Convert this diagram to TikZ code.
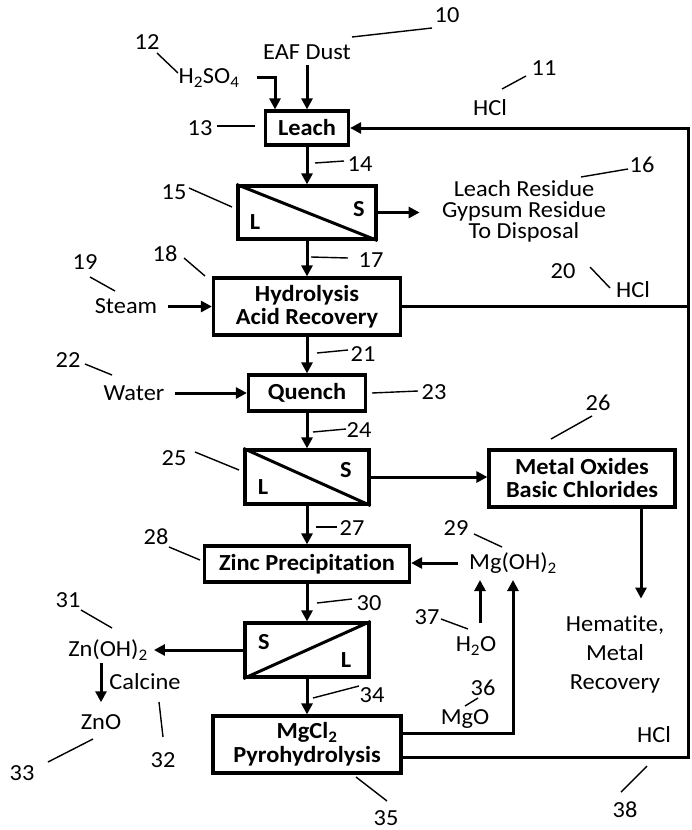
\documentclass[tikz,border=0pt]{standalone}
\usepackage{fontspec}
\setmainfont{Carlito}[FakeStretch=1.06, Ligatures={NoCommon}]
\usetikzlibrary{arrows.meta}
\begin{document}
\begin{tikzpicture}[x=1pt,y=-1pt,
  every node/.style={font=\fontsize{23}{21}\selectfont, inner sep=0pt},
  box/.style={draw, line width=3.2pt, font=\fontsize{23}{23}\selectfont\bfseries, align=center},
  sl/.style={font=\fontsize{23}{21}\selectfont\bfseries},
  flow/.style={line width=3pt, -{Triangle[length=11pt,width=11pt]}},
  pipe/.style={line width=3pt},
  lead/.style={line width=1.4pt}]
\useasboundingbox (0,0) rectangle (691,830);

% ---- process boxes
\node[box, minimum width=83pt, minimum height=34pt] (leach) at (307,128) {Leach};
\node[box, minimum width=138pt, minimum height=53pt] (sep1) at (307,212.5) {};
\draw[pipe] (sep1.north west) -- (sep1.south east);
\node[sl] (sep1L) at (255,222) {L};
\node[sl] (sep1S) at (359,209) {S};
\node[box, minimum width=187pt, minimum height=57pt] (hydro) at (307,306.5) {Hydrolysis\\Acid Recovery};
\node[box, minimum width=117pt, minimum height=36pt] (quench) at (307,393) {Quench};
\node[box, minimum width=124pt, minimum height=54pt] (sep2) at (307,477) {};
\draw[pipe] (sep2.north west) -- (sep2.south east);
\node[sl] (sep2L) at (263,487) {L};
\node[sl] (sep2S) at (346,470) {S};
\node[box, minimum width=186pt, minimum height=57pt] (metal) at (582,478.5) {Metal Oxides\\Basic Chlorides};
\node[box, minimum width=205pt, minimum height=36pt] (zinc) at (307,564) {Zinc Precipitation};
\node[box, minimum width=124pt, minimum height=54pt] (sep3) at (307,650) {};
\draw[pipe] (sep3.south west) -- (sep3.north east);
\node[sl] (sep3S) at (264,642) {S};
\node[sl] (sep3L) at (346,660) {L};
\node[box, minimum width=188pt, minimum height=57pt, font=\fontsize{23}{24}\selectfont\bfseries] (mgcl) at (307,744.5) {MgCl\textsubscript{2}\\Pyrohydrolysis};

% ---- texts
\node (eaf) at (307,52) {EAF Dust};
\node (h2so4) at (209,78) {H\textsubscript{2}SO\textsubscript{4}};
\node (hcl1) at (490,108) {HCl};
\node[align=center] (resid) at (524,211) {Leach Residue\\Gypsum Residue\\To Disposal};
\node (steam) at (126,306) {Steam};
\node (hcl2) at (633,290) {HCl};
\node (water) at (134,393) {Water};
\node (mgoh) at (513,563) {Mg(OH)\textsubscript{2}};
\node (h2o) at (476,646) {H\textsubscript{2}O};
\node (znoh) at (108,650) {Zn(OH)\textsubscript{2}};
\node (calc) at (145,682) {Calcine};
\node (zno) at (101,722) {ZnO};
\node (mgo) at (465,719) {MgO};
\node[align=center, font=\fontsize{23}{29}\selectfont] (hem) at (615,654) {Hematite,\\Metal\\Recovery};
\node (hcl3) at (654,735) {HCl};

% ---- reference numbers
\node (n10) at (447,15) {10};
\node (n11) at (544,68) {11};
\node (n12) at (147,42) {12};
\node (n13) at (200,128) {13};
\node (n14) at (360,164) {14};
\node (n15) at (174,192) {15};
\node (n16) at (642,165) {16};
\node (n17) at (371,260) {17};
\node (n18) at (165,254) {18};
\node (n19) at (85,262) {19};
\node (n20) at (563,271) {20};
\node (n21) at (363,354) {21};
\node (n22) at (68,360) {22};
\node (n23) at (434,392) {23};
\node (n24) at (359,430) {24};
\node (n25) at (174,458) {25};
\node (n26) at (598,403) {26};
\node (n27) at (352,528) {27};
\node (n28) at (156,537) {28};
\node (n29) at (456,528) {29};
\node (n30) at (369,603) {30};
\node (n31) at (68,600) {31};
\node (n32) at (163,760) {32};
\node (n33) at (22,773) {33};
\node (n34) at (372,695) {34};
\node (n35) at (386,818) {35};
\node (n36) at (483,688) {36};
\node (n37) at (427,617) {37};
\node (n38) at (625,810) {38};

% ---- leader lines
\draw[lead] (352,37) -- (432,28);
\draw[lead] (157,53) -- (178,73);
\draw[lead] (526,76) -- (502,89);
\draw[lead] (217,126) -- (255,126);
\draw[lead] (315,163) -- (344,161);
\draw[lead] (189,188) -- (232,207);
\draw[lead] (581,177) -- (628,169);
\draw[lead] (311,257) -- (348,258);
\draw[lead] (184,258) -- (205,276);
\draw[lead] (90,277) -- (115,291);
\draw[lead] (590,267) -- (610,288);
\draw[lead] (317,353) -- (348,350);
\draw[lead] (85,364) -- (112,375);
\draw[lead] (372,393) -- (418,391);
\draw[lead] (313,432) -- (346,429);
\draw[lead] (195,452) -- (239,470);
\draw[lead] (592,416) -- (551,439);
\draw[lead] (316,527) -- (337,527);
\draw[lead] (169,547) -- (200,560);
\draw[lead] (474,534) -- (502,547);
\draw[lead] (317,603) -- (352,599);
\draw[lead] (81,610) -- (112,628);
\draw[lead] (441,619) -- (468,629);
\draw[lead] (313,698) -- (359,686);
\draw[lead] (478,698) -- (465,706);
\draw[lead] (159,702) -- (163,737);
\draw[lead] (48,762) -- (93,739);
\draw[lead] (356,777) -- (387,801);
\draw[lead] (621,792) -- (647,766);

% ---- flows
\coordinate (hbend) at (275,77);
\draw[flow] ([xshift=17pt]h2so4.east |- hbend) -- (hbend) -- (hbend |- leach.north);
\draw[flow] ([yshift=-5pt]eaf.south) -- (eaf.south |- leach.north);
\draw[flow] (leach) -- (sep1);
\draw[flow] (sep1.east) -- ++(42,0);
\draw[flow] (sep1) -- (hydro);
\draw[flow] ([xshift=-44pt]hydro.west) -- (hydro.west);
\draw[flow] (hydro) -- (quench);
\draw[flow] ([xshift=-72pt]quench.west) -- (quench.west);
\draw[flow] (quench) -- (sep2);
\draw[flow] (sep2.east) -- (sep2.east -| metal.west);
\draw[flow] ([xshift=59pt]metal.south) -- ++(0,90);
\draw[flow] (sep2) -- (zinc);
\draw[flow] ([xshift=-11pt]mgoh.west) -- (zinc.east |- mgoh.west);
\draw[flow] (zinc) -- (sep3);
\draw[flow] (sep3.west) -- ([xshift=6pt]znoh.east |- sep3.west);
\draw[flow] ([yshift=-3pt]znoh.south -| zno.north) -- ([yshift=12pt]zno.north);
\draw[flow] (sep3) -- (mgcl);
\coordinate (h2ob) at (480,623);
\coordinate (h2ot) at (480,580);
\draw[flow] (h2ob) -- (h2ot);
\coordinate (mgoc) at (513,733);
\coordinate (mgot) at (513,580);
\draw[flow] (mgcl.east |- mgoc) -- (mgoc) -- (mgot);
\coordinate (rtop) at (688,128);
\coordinate (rbot) at (688,757);
\draw[flow] (mgcl.east |- rbot) -- (rbot) -- (rtop) -- (leach.east);
\draw[pipe] (hydro.east) -- (hydro.east -| rtop);
\end{tikzpicture}
\end{document}
